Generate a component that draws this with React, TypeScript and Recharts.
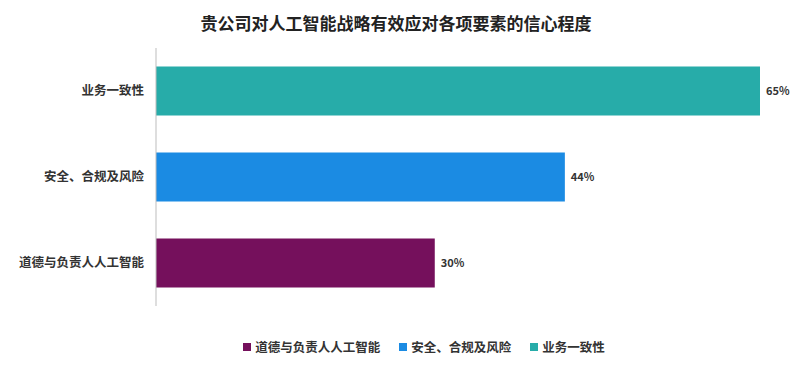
import { BarChart, Bar, XAxis, YAxis, Cell, LabelList } from "recharts";

const categories = ["业务一致性", "安全、合规及风险", "道德与负责人人工智能"];
const values = [65, 44, 30];
const colors = ["#27aca9", "#1b8be3", "#75105c"];
const legendOrder = ["道德与负责人人工智能", "安全、合规及风险", "业务一致性"];

const data = categories.map((name, i) => ({ name, value: values[i], color: colors[i] }));

const font = '"Noto Sans CJK SC", "Noto Sans", sans-serif';

function LegendContent() {
  return (
    <div
      style={{
        position: "absolute",
        top: 337,
        left: 4,
        width: 840,
        display: "flex",
        justifyContent: "center",
        gap: 19,
        fontSize: 12.5,
        fontWeight: 600,
        color: "#333",
      }}
    >
      {legendOrder.map((name) => {
        const idx = categories.indexOf(name);
        return (
          <div key={name} style={{ display: "flex", alignItems: "center", gap: 4 }}>
            <span style={{ width: 8, height: 8, background: colors[idx], display: "inline-block" }} />
            <span>{name}</span>
          </div>
        );
      })}
    </div>
  );
}

export default function App() {
  return (
    <div style={{ position: "absolute", left: 0, top: 0, width: 806, height: 369, background: "#fff", fontFamily: font }}>
      <div
        style={{
          position: "absolute",
          top: 10,
          left: 0,
          width: 792,
          textAlign: "center",
          fontSize: 17,
          fontWeight: 700,
          color: "#222",
        }}
      >
        贵公司对人工智能战略有效应对各项要素的信心程度
      </div>
      <BarChart
        width={806}
        height={369}
        data={data}
        layout="vertical"
        margin={{ top: 48, right: 46, bottom: 63, left: 8 }}
        barCategoryGap="21.5%"
      >
        <XAxis type="number" hide domain={[0, 65]} />
        <YAxis
          type="category"
          dataKey="name"
          width={148}
          tickLine={false}
          tickSize={0}
          tickMargin={12}
          axisLine={{ stroke: "#bdbdbd" }}
          tick={{ fontSize: 12.5, fontWeight: 600, fill: "#333", fontFamily: font }}
        />
        <Bar dataKey="value" isAnimationActive={false}>
          {data.map((d) => (
            <Cell key={d.name} fill={d.color} />
          ))}
          <LabelList
            dataKey="value"
            position="right"
            offset={6}
            formatter={(v: number) => `${v}%`}
            style={{ fontSize: 11, fontWeight: 700, fill: "#333", fontFamily: font }}
          />
        </Bar>
      </BarChart>
      <LegendContent />
    </div>
  );
}
